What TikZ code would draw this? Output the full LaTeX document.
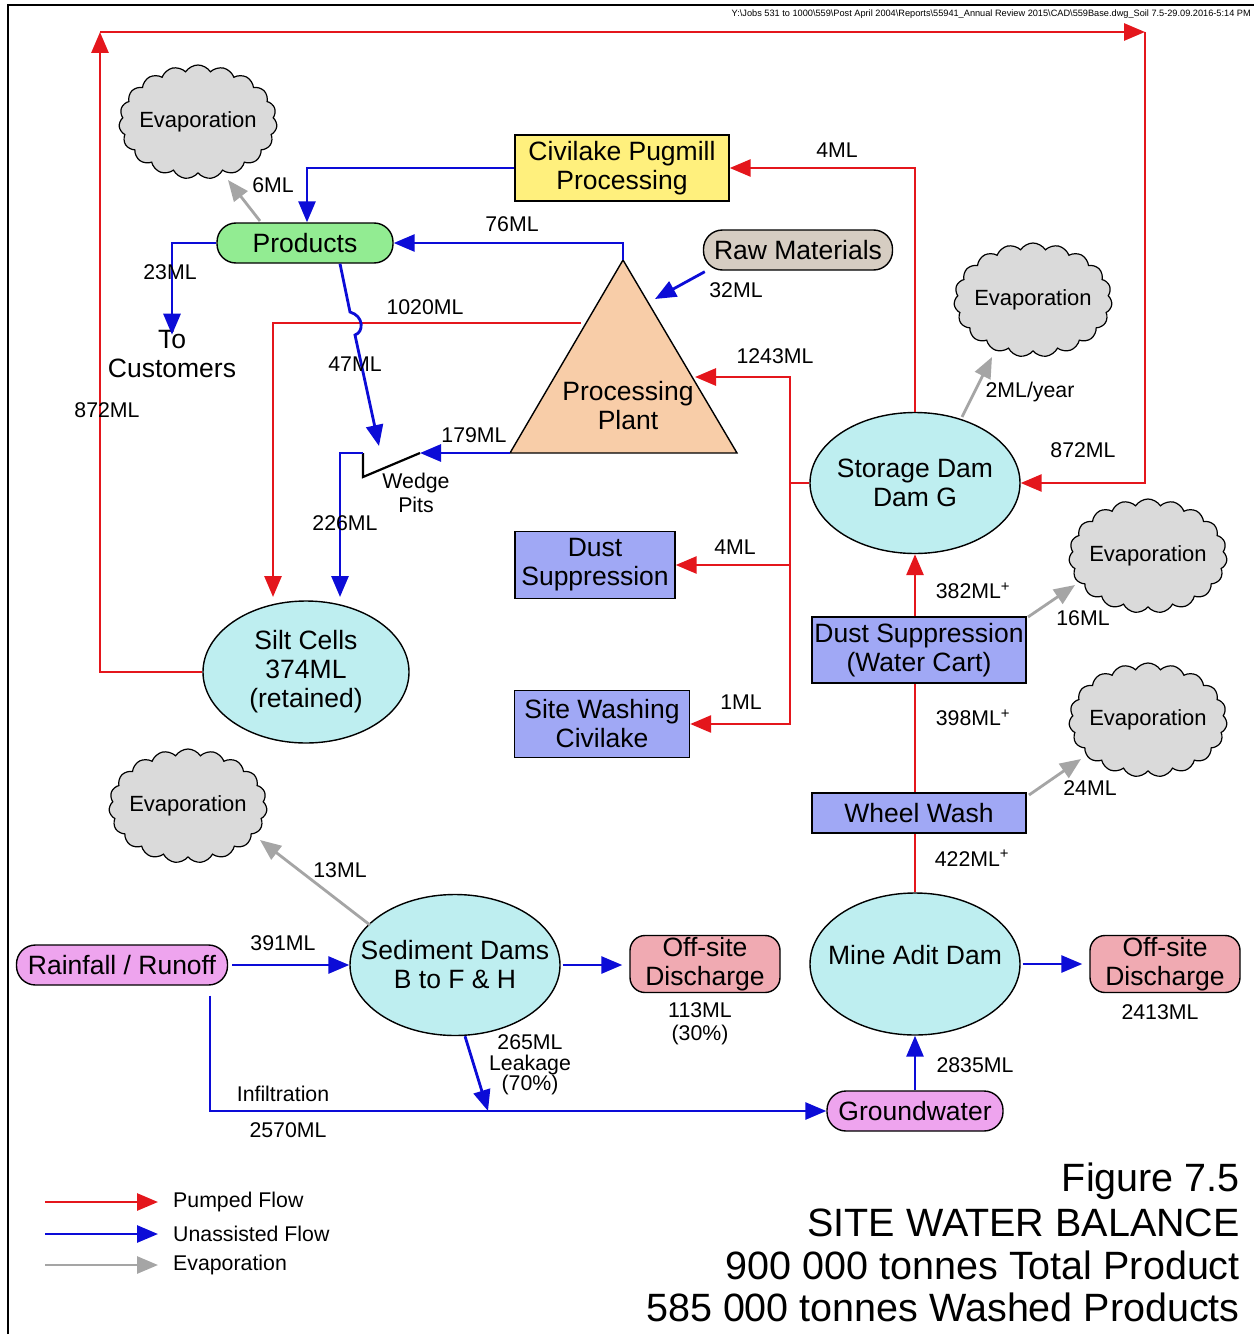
\documentclass[tikz,border=0pt]{standalone}
\usepackage{fontspec}
\setmainfont{Liberation Sans}
\usetikzlibrary{arrows.meta,shapes.geometric,shapes.symbols,calc}
\definecolor{cred}{RGB}{228,22,28}
\definecolor{cblue}{RGB}{12,12,215}
\definecolor{cgray}{RGB}{165,165,165}
\definecolor{fcloud}{RGB}{218,218,218}
\definecolor{fyellow}{RGB}{255,240,125}
\definecolor{fgreen}{RGB}{146,236,146}
\definecolor{fraw}{RGB}{214,205,194}
\definecolor{fpeach}{RGB}{248,205,168}
\definecolor{fcyan}{RGB}{190,238,240}
\definecolor{flav}{RGB}{160,168,245}
\definecolor{fsalmon}{RGB}{240,170,178}
\definecolor{fmag}{RGB}{238,164,238}
\tikzset{
  tip/.style={-{Triangle[length=21pt,width=17pt]}},
  pumped/.style={draw=cred,line width=2.8pt,tip},
  pumpedline/.style={draw=cred,line width=2.8pt},
  unassist/.style={draw=cblue,line width=2.8pt,tip},
  evap/.style={draw=cgray,line width=2.8pt,tip},
  big/.style={font=\fontsize{26.5}{29}\selectfont,align=center},
  lbl/.style={font=\fontsize{21.3}{23.5}\selectfont,align=center,inner sep=0pt},
  ell/.style={ellipse,draw,line width=1.4pt,fill=fcyan,inner sep=0pt},
  box/.style={rectangle,draw,line width=1.4pt,big,inner sep=0pt},
  rbox/.style={rectangle,rounded corners=19pt,draw,line width=1.4pt,big,inner sep=0pt},
  evapcloud/.style={cloud,cloud puffs=19,cloud puff arc=115,aspect=1.4,draw,line width=1.2pt,fill=fcloud,
     minimum width=158pt,minimum height=114pt,inner sep=0pt},
  cloudtext/.style={font=\fontsize{22}{24}\selectfont,inner sep=0pt}
}
\begin{document}
\begin{tikzpicture}[x=1pt,y=-1pt]
\useasboundingbox (0,0) rectangle (1255,1335);
\fill[white] (0,0) rectangle (1255,1335);
\draw[line width=2.2pt] (8,1334) -- (8,5) -- (1254,5);
\node[anchor=east,font=\fontsize{9.2}{10}\selectfont,inner sep=0pt] (hdr) at (1251,14)
  {Y:\textbackslash Jobs 531 to 1000\textbackslash 559\textbackslash Post April 2004\textbackslash Reports\textbackslash 55941\_Annual Review 2015\textbackslash CAD\textbackslash 559Base.dwg\_Soil 7.5-29.09.2016-5:14 PM};

% ---------- clouds ----------
\node[evapcloud] (ev1) at (198,122) {};
\node[evapcloud] (ev2) at (1033,300) {};
\node[evapcloud] (ev3) at (1148,556) {};
\node[evapcloud] (ev4) at (1148,720) {};
\node[evapcloud] (ev5) at (188,806) {};
\node[cloudtext] (ev1t) at (ev1) {Evaporation};
\node[cloudtext] (ev2t) at (ev2) {Evaporation};
\node[cloudtext] (ev3t) at (ev3) {Evaporation};
\node[cloudtext] (ev4t) at (ev4) {Evaporation};
\node[cloudtext] (ev5t) at (ev5) {Evaporation};

% ---------- boxes ----------
\node[box,fill=fyellow,minimum width=214pt,minimum height=66pt] (civ) at (622,168) {Civilake Pugmill\\Processing};
\node[rbox,fill=fgreen,minimum width=176pt,minimum height=40pt] (prod) at (305,243) {Products};
\node[rbox,fill=fraw,minimum width=189pt,minimum height=40pt] (raw) at (798,250) {Raw Materials};
\node[big] (cust) at (172,354) {To\\Customers};
\coordinate (ppA) at (623,260);
\coordinate (ppL) at (510,453);
\coordinate (ppR) at (737,453);
\draw[line width=1.4pt,fill=fpeach] (ppA) -- (ppL) -- (ppR) -- cycle;
\node[big] (pp) at (628,406) {Processing\\Plant};
\node[ell,minimum width=206pt,minimum height=142pt] (silt) at (306,672) {};
\node[big] (siltT) at (silt) {Silt Cells\\374ML\\(retained)};
\node[ell,minimum width=210pt,minimum height=141pt] (storage) at (915,483) {};
\node[big] (storageT) at (storage) {Storage Dam\\Dam G};
\node[box,fill=flav,minimum width=160pt,minimum height=67pt] (dust) at (595,565) {Dust\\Suppression};
\node[box,fill=flav,minimum width=175pt,minimum height=67pt] (site) at (602,724) {Site Washing\\Civilake};
\node[box,fill=flav,minimum width=214pt,minimum height=66pt] (dustwc) at (919,650) {Dust Suppression\\(Water Cart)};
\node[box,fill=flav,minimum width=214pt,minimum height=40pt] (wheel) at (919,813) {Wheel Wash};
\node[ell,minimum width=210pt,minimum height=142pt] (mine) at (915,964) {};
\node[big] (mineT) at (915,955) {Mine Adit Dam};
\node[ell,minimum width=210pt,minimum height=141pt] (sed) at (455,965) {};
\node[big] (sedT) at (sed) {Sediment Dams\\B to F \& H};
\node[rbox,fill=fmag,minimum width=211pt,minimum height=40pt] (rain) at (122,965) {Rainfall / Runoff};
\node[rbox,rounded corners=15pt,fill=fsalmon,minimum width=150pt,minimum height=57pt] (off1) at (705,964) {Off-site\\Discharge};
\node[rbox,rounded corners=15pt,fill=fsalmon,minimum width=150pt,minimum height=57pt] (off2) at (1165,964) {Off-site\\Discharge};
\node[rbox,fill=fmag,minimum width=176pt,minimum height=40pt] (ground) at (915,1111) {Groundwater};

% ---------- coordinates ----------
\coordinate (tl) at (100,32);
\coordinate (tr) at (1145,32);
\coordinate (ppRaw) at (655,299);
\coordinate (ppRin) at (695,377);
\coordinate (ppLred) at (581,323);
\coordinate (siltA) at (273,597);
\coordinate (siltB) at (340,597);
\coordinate (wpR) at (420,453);
\coordinate (wpM) at (363,477);
\coordinate (wpL) at (363,453);
\coordinate (hop1) at (350,312);
\coordinate (hop2) at (355,335);
\coordinate (wpIn) at (379,446);
\coordinate (br) at (790,483);
\coordinate (leak) at (488,1111);
\coordinate (e1s) at (260,221);  \coordinate (e1e) at (228,180);
\coordinate (e2s) at (962,417);  \coordinate (e2e) at (992,357);
\coordinate (e3s) at (1028,617); \coordinate (e3e) at (1075,585);
\coordinate (e4s) at (1029,795); \coordinate (e4e) at (1081,759);
\coordinate (e5s) at (370,925);  \coordinate (e5e) at (260,840);

% ---------- connectors ----------
\draw[pumped] (silt.west) -| (tl);
\draw[pumped] (tl) -- (tr);
\draw[pumped] (tr) |- (storage.east);
\draw[evap] (e1s) -- (e1e);
\draw[unassist] (civ.west) -| ([xshift=2pt]prod.north);
\draw[pumped] (storage.north) |- (civ.east);
\draw[unassist] (prod.west) -| ([yshift=-8pt]cust.north);
\draw[unassist] (ppA) |- (prod.east);
\draw[unassist] ([xshift=2pt,yshift=-1pt]raw.south west) -- (ppRaw);
\draw[pumped] (ppLred) -| (siltA);
\draw[unassist] ([xshift=35pt]prod.south) -- (hop1) .. controls (364,316) and (364,332) .. (hop2) -- (wpIn);
\draw[unassist] (ppL) -- (wpR);
\draw[line width=2.2pt] (wpR) -- (wpM) -- (wpL);
\draw[unassist] (wpL) -- (340,453) -- (siltB);
\draw[pumpedline] (storage.west) -- (br);
\draw[pumped] (br) |- (ppRin);
\draw[pumped] (br) |- (dust.east);
\draw[pumped] (br) |- (site.east);
\draw[evap] (e2s) -- (e2e);
\draw[pumped] (storage.south |- dustwc.north) -- (storage.south);
\draw[pumpedline] (storage.south |- wheel.north) -- (storage.south |- dustwc.south);
\draw[pumpedline] (mine.north) -- (storage.south |- wheel.south);
\draw[evap] (e3s) -- (e3e);
\draw[evap] (e4s) -- (e4e);
\draw[unassist,shorten <=2pt,shorten >=7pt] (mine.east) -- (mine.east -| off2.west);
\draw[unassist] (ground.north) -- (mine.south);
\draw[unassist,shorten <=4pt] (rain.east) -- (sed.west);
\draw[unassist,shorten <=2pt,shorten >=7pt] (sed.east) -- (sed.east -| off1.west);
\draw[evap] (e5s) -- (e5e);
\draw[unassist] ([xshift=88pt,yshift=-10pt]rain.south) |- (ground.west);
\draw[unassist] ([xshift=10pt]sed.south) -- (leak);

% ---------- labels ----------
\node[lbl] at (107,410) {872ML};
\node[lbl] at (1083,450) {872ML};
\node[lbl] at (273,185) {6ML};
\node[lbl] at (837,150) {4ML};
\node[lbl] at (170,272) {23ML};
\node[lbl] at (512,224) {76ML};
\node[lbl] at (736,290) {32ML};
\node[lbl] at (425,307) {1020ML};
\node[lbl] at (355,364) {47ML};
\node[lbl] at (775,356) {1243ML};
\node[lbl] at (474,435) {179ML};
\node[lbl] at (416,493) {Wedge\\Pits};
\node[lbl] at (345,523) {226ML};
\node[lbl] at (1030,392) {2ML/year};
\node[lbl] at (735,547) {4ML};
\node[lbl] at (741,702) {1ML};
\node[lbl] at (973,591) {382ML\textsuperscript{+}};
\node[lbl] at (1083,618) {16ML};
\node[lbl] at (973,718) {398ML\textsuperscript{+}};
\node[lbl] at (1090,788) {24ML};
\node[lbl] at (972,858) {422ML\textsuperscript{+}};
\node[lbl] at (340,870) {13ML};
\node[lbl] at (283,943) {391ML};
\node[lbl] at (700,1024) {113ML\\(30\%)};
\node[lbl] at (1160,1012) {2413ML};
\node[lbl] at (975,1065) {2835ML};
\node[lbl,font=\fontsize{21.3}{20.5}\selectfont] at (530,1065) {265ML\\Leakage\\(70\%)};
\node[lbl] at (283,1094) {Infiltration};
\node[lbl] at (288,1130) {2570ML};

% ---------- legend ----------
\coordinate (lg1a) at (45,1202); \coordinate (lg1b) at (158,1202);
\coordinate (lg2a) at (45,1234); \coordinate (lg2b) at (158,1234);
\coordinate (lg3a) at (45,1265); \coordinate (lg3b) at (158,1265);
\draw[pumped] (lg1a) -- (lg1b);
\draw[unassist] (lg2a) -- (lg2b);
\draw[evap] (lg3a) -- (lg3b);
\node[lbl,anchor=west] at (173,1202) {Pumped Flow};
\node[lbl,anchor=west] at (173,1234) {Unassisted Flow};
\node[lbl,anchor=west] at (173,1265) {Evaporation};

% ---------- title ----------
\node[anchor=east,inner sep=0pt,font=\fontsize{39.5}{42}\selectfont] at (1240,1181) {Figure 7.5};
\node[anchor=east,inner sep=0pt,font=\fontsize{39.5}{42}\selectfont] at (1240,1223) {SITE WATER BALANCE};
\node[anchor=east,inner sep=0pt,font=\fontsize{39.5}{42}\selectfont] at (1240,1265) {900 000 tonnes Total Product};
\node[anchor=east,inner sep=0pt,font=\fontsize{39.5}{42}\selectfont] at (1240,1307) {585 000 tonnes Washed Products};
\end{tikzpicture}
\end{document}
